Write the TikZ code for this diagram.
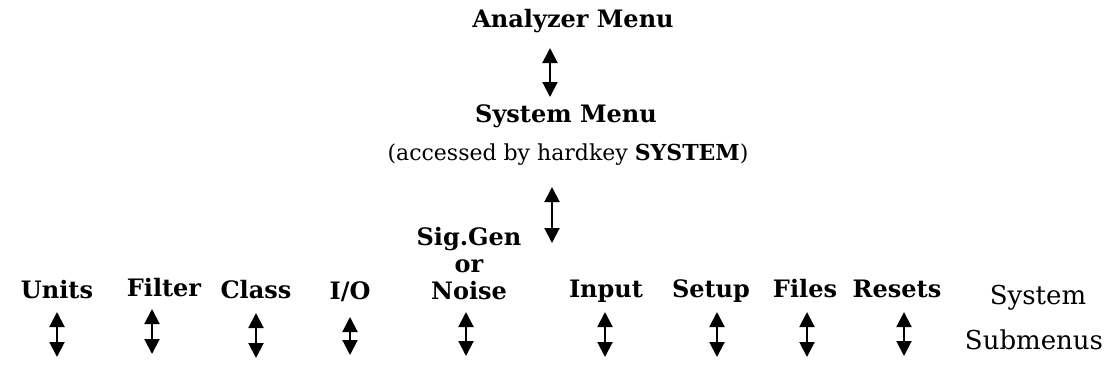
\documentclass[tikz,border=0pt]{standalone}
\usepackage{fontspec}
\setmainfont{DejaVu Serif}
\usetikzlibrary{arrows.meta}
\begin{document}
\begin{tikzpicture}[x=1pt,y=-1pt,
  lbl/.style={inner sep=0pt,anchor=base,font=\fontsize{24}{27}\selectfont\bfseries},
  plain/.style={inner sep=0pt,anchor=base,font=\fontsize{22}{27}\selectfont},
  side/.style={inner sep=0pt,anchor=base,font=\fontsize{26}{30}\selectfont},
  dbl/.style={line width=2pt,{Triangle[width=15pt,length=15pt]}-{Triangle[width=15pt,length=15pt]}}]
\useasboundingbox (0,0) rectangle (1108,373);
\node[lbl] (am) at (573,27) {Analyzer Menu};
\node[lbl] (sm) at (566,122) {System Menu};
\node[plain] (acc) at (568,160) {(accessed by hardkey \textbf{SYSTEM})};
\node[lbl,align=center] (sig) at (469,299) {Sig.Gen\\or\\Noise};
\node[lbl] (units) at (57,298) {Units};
\node[lbl] (filter) at (164,296) {Filter};
\node[lbl] (class) at (256,298) {Class};
\node[lbl] (io) at (350,299) {I/O};
\node[lbl] (input) at (606,297) {Input};
\node[lbl] (setup) at (711,297) {Setup};
\node[lbl] (files) at (805,297) {Files};
\node[lbl] (resets) at (897,297) {Resets};
\node[side] (sys) at (1038,304) {System};
\node[side] (sub) at (1034,349) {Submenus};
\coordinate (a1t) at (550,48); \coordinate (a1b) at (550,97);
\coordinate (a2t) at (552,187); \coordinate (a2b) at (552,243);
\draw[dbl] (a1t) -- (a1b);
\draw[dbl] (a2t) -- (a2b);
\foreach \n/\x/\t/\b in {units/57/312/357, filter/152/309/354, class/256/313/358, io/350/317/355, sig/466/312/356, input/605/312/357, setup/717/312/357, files/807/312/357, resets/904/312/356} {
  \coordinate (\n t) at (\x,\t); \coordinate (\n b) at (\x,\b);
  \draw[dbl] (\n t) -- (\n b);
}
\end{tikzpicture}
\end{document}
